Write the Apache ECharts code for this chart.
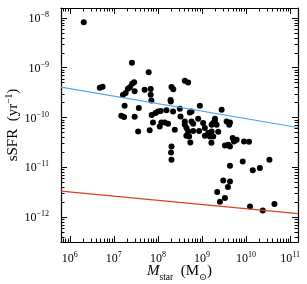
<!DOCTYPE html>
<html><head><meta charset="utf-8">
<script src="https://cdn.jsdelivr.net/npm/echarts@6/dist/echarts.min.js"></script>
<style>html,body{margin:0;padding:0;background:#fff}#c{width:307px;height:284px}</style>
</head><body><div id="c"></div>
<script>
// log10(M_star / M_sun)
const logMass = [6.317,6.681,6.743,7.205,7.267,7.319,7.364,7.415,7.460,7.472,7.244,7.567,7.169,7.232,7.472,7.551,7.410,
  7.790,7.699,7.836,7.836,7.852,8.610,8.686,8.308,8.349,8.287,8.292,
  7.859,7.945,8.002,8.064,8.194,8.344,8.497,8.724,8.763,8.513,8.913,8.952,
  7.888,8.080,8.155,8.230,8.610,8.610,8.763,8.800,
  8.041,7.813,8.383,8.649,8.686,8.800,8.936,8.645,8.708,8.736,8.308,8.298,8.308,
  9.446,9.294,9.294,9.027,9.219,9.333,9.255,9.560,9.620,9.636,
  9.066,9.141,9.219,9.369,9.066,9.180,9.255,9.214,
  9.522,9.597,9.636,9.697,9.727,9.788,9.954,10.068,
  9.636,9.925,10.153,10.314,10.531,
  9.483,9.636,9.590,9.346,9.522,9.408,10.091,10.380,10.645];
// log10(sSFR / yr^-1)
const logSSFR = [-8.086,-9.402,-9.382,-9.548,-9.508,-9.422,-9.392,-9.321,-9.291,-9.472,-9.763,-9.809,-9.964,-9.990,-9.984,-10.279,-8.900,
  -9.090,-9.442,-9.428,-9.542,-9.659,-9.261,-9.295,-9.388,-9.432,-9.647,-9.679,
  -9.950,-9.910,-9.878,-9.869,-9.853,-9.878,-9.823,-9.898,-9.878,-9.978,-10.024,-9.763,
  -10.098,-10.098,-10.098,-10.124,-10.078,-10.145,-10.078,-10.124,
  -10.179,-10.255,-10.245,-10.211,-10.279,-10.271,-10.271,-10.365,-10.380,-10.500,-10.580,-10.701,-10.847,
  -9.843,-10.024,-10.078,-10.110,-10.145,-10.145,-10.110,-10.078,-10.145,-10.098,
  -10.211,-10.311,-10.279,-10.285,-10.365,-10.380,-10.380,-10.506,
  -10.562,-10.546,-10.582,-10.412,-10.480,-10.446,-10.480,-10.486,
  -10.968,-10.882,-11.058,-11.014,-10.847,
  -11.263,-11.283,-11.396,-11.496,-11.616,-11.691,-11.785,-11.865,-11.737];
const blueLineX = [5.8, 11.18];
const blueLineY = [-9.39, -10.20];
const redLineX = [5.8, 11.18];
const redLineY = [-11.48, -11.93];
const xTickExp = [6, 7, 8, 9, 10, 11];
const yTickExp = [-12, -11, -10, -9, -8];
const X_MIN = 5.8, X_MAX = 11.18, Y_MIN = -12.5, Y_MAX = -7.8;

function minorTicks(lo, hi) {
  const r = [];
  for (let d = Math.floor(lo); d <= Math.ceil(hi); d++) {
    for (let k = 2; k <= 9; k++) {
      const v = d + Math.log10(k);
      if (v > lo && v < hi) r.push(v);
    }
  }
  return r;
}
const FONT = '"Liberation Serif", "DejaVu Serif", serif';
const black = '#000';
const rich = {
  b: {fontFamily: FONT, fontSize: 12, color: black, lineHeight: 14, verticalAlign: 'bottom'},
  s: {fontFamily: FONT, fontSize: 8, color: black, lineHeight: 8, verticalAlign: 'top'},
  t: {fontFamily: FONT, fontSize: 15, color: black, lineHeight: 17, verticalAlign: 'bottom'},
  ts: {fontFamily: FONT, fontSize: 9.5, color: black, lineHeight: 9, verticalAlign: 'top'},
  i: {fontFamily: FONT, fontSize: 15, color: black, fontStyle: 'italic', lineHeight: 17, verticalAlign: 'bottom'},
  sub: {fontFamily: FONT, fontSize: 9.5, color: black, lineHeight: 9, verticalAlign: 'bottom', padding: [0, 0, -3, 0]}
};
const supFmt = v => '{b|10}{s|' + String(v).replace('-', '\u2212') + '}';

function axis(dim, pos, gridIndex, major, opts) {
  const a = {
    type: 'value', gridIndex, position: pos,
    min: dim === 'x' ? X_MIN : Y_MIN, max: dim === 'x' ? X_MAX : Y_MAX,
    axisLine: {show: major, onZero: false, lineStyle: {color: black, width: 1.2}},
    axisTick: {show: true, inside: true, length: major ? 6 : 3.5,
      customValues: major ? (dim === 'x' ? xTickExp : yTickExp) : (dim === 'x' ? minorTicks(X_MIN, X_MAX) : minorTicks(Y_MIN, Y_MAX)),
      lineStyle: {color: black, width: 1}},
    axisLabel: {show: false},
    splitLine: {show: false}
  };
  return Object.assign(a, opts || {});
}

const grid = {left: 61, top: 8, width: 237, height: 234, containLabel: false, outerBoundsMode: 'none'};
const chart = echarts.init(document.getElementById('c'), null, {renderer: 'canvas'});
chart.setOption({
  animation: false,
  backgroundColor: '#fff',
  grid: [Object.assign({}, grid), Object.assign({}, grid)],
  xAxis: [
    axis('x', 'bottom', 0, true, {
      axisLabel: {show: true, customValues: xTickExp, formatter: supFmt, rich: rich, margin: 9},
      name: '{i|M}{sub|star}{t|  (M}{sub|\u2299}{t|)}',
      nameLocation: 'middle', nameGap: 20, nameMoveOverlap: false, nameTextStyle: {rich: rich}
    }),
    axis('x', 'top', 0, true),
    axis('x', 'bottom', 1, false),
    axis('x', 'top', 1, false)
  ],
  yAxis: [
    axis('y', 'left', 0, true, {
      axisLabel: {show: true, customValues: yTickExp, formatter: supFmt, rich: rich, margin: 12},
      name: '{t|sSFR  (yr}{ts|\u22121}{t|)}',
      nameLocation: 'middle', nameGap: 40, nameRotate: 90, nameMoveOverlap: false, nameTextStyle: {rich: rich}
    }),
    axis('y', 'right', 0, true),
    axis('y', 'left', 1, false),
    axis('y', 'right', 1, false)
  ],
  series: [
    {type: 'scatter', xAxisIndex: 0, yAxisIndex: 0, symbolSize: 6,
      itemStyle: {color: black, opacity: 1}, data: logMass.map((m, i) => [m, logSSFR[i]])},
    {type: 'line', xAxisIndex: 0, yAxisIndex: 0, showSymbol: false, symbol: 'none',
      lineStyle: {color: '#4ea6f0', width: 1.2}, data: blueLineX.map((x, i) => [x, blueLineY[i]])},
    {type: 'line', xAxisIndex: 0, yAxisIndex: 0, showSymbol: false, symbol: 'none',
      lineStyle: {color: '#e0401f', width: 1.2}, data: redLineX.map((x, i) => [x, redLineY[i]])}
  ]
});
</script>
</body></html>
